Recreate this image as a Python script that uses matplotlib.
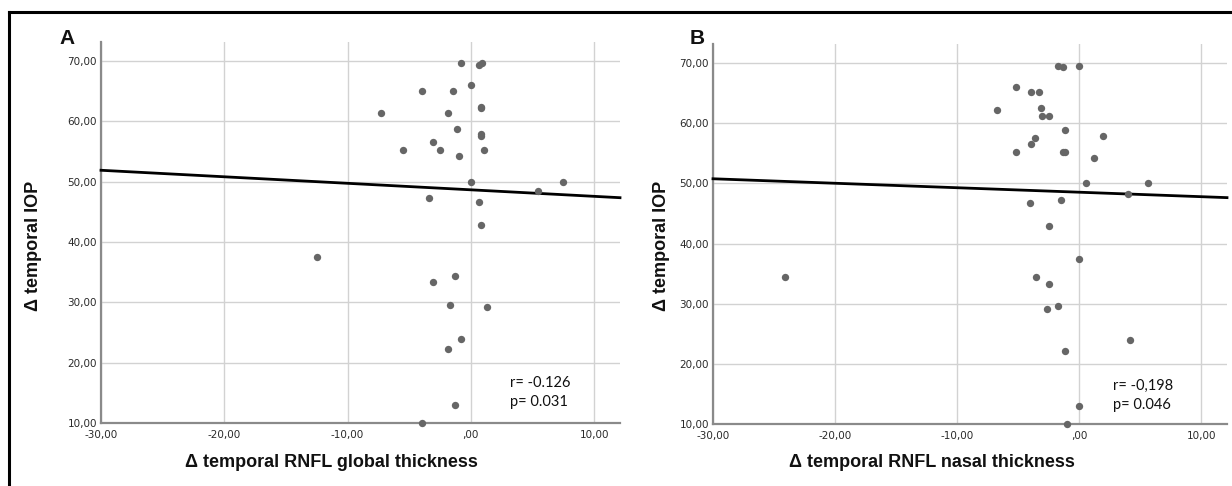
import matplotlib
matplotlib.use("Agg")
import matplotlib.pyplot as plt
from matplotlib.lines import Line2D
from matplotlib.ticker import FuncFormatter

# panel A: delta temporal RNFL global thickness vs delta temporal IOP
global_x = [-0.83, 0.70, 0.93, -3.94, -1.47, 0.0, 0.80, 0.83, -7.30, -1.83,
            -1.12, 0.83, 0.83, -3.08, -5.48, -2.53, 1.09, -0.96, 0.0, 7.47,
            5.48, -3.37, 0.64, 0.80, -12.5, -1.25, -3.08, -1.73, 1.28, -0.83,
            -1.83, -1.25, -3.94]
global_y = [69.6, 69.3, 69.6, 65.1, 65.1, 66.0, 62.4, 62.2, 61.3, 61.3,
            58.8, 57.9, 57.5, 56.6, 55.3, 55.3, 55.3, 54.2, 50.0, 50.0,
            48.4, 47.3, 46.7, 42.9, 37.5, 34.4, 33.3, 29.6, 29.2, 24.0,
            22.2, 13.0, 10.0]

# panel B: delta temporal RNFL nasal thickness vs delta temporal IOP
nasal_x = [-1.73, -1.30, 0.0, -5.15, -3.97, -3.29, -6.71, -3.16, -3.03, -2.48,
           -1.17, 1.95, -3.62, -3.97, -5.15, -1.37, -1.17, 1.17, 0.59, 5.67,
           4.00, -4.07, -1.47, -2.44, 0.0, -24.1, -3.58, -2.44, -1.73, -2.67,
           4.14, -1.17, 0.0, -1.00]
nasal_y = [69.6, 69.3, 69.6, 66.0, 65.2, 65.2, 62.3, 62.5, 61.3, 61.3,
           58.9, 57.9, 57.5, 56.6, 55.3, 55.3, 55.3, 54.2, 50.0, 50.0,
           48.3, 46.7, 47.3, 42.9, 37.5, 34.4, 34.4, 33.3, 29.6, 29.2,
           24.0, 22.2, 13.0, 10.0]

# fit lines: (intercept, slope)
fit_global = (48.65, -0.108)
fit_nasal = (48.55, -0.0745)

stats_global = ["r= -0.126", "p= 0.031"]
stats_nasal = ["r= -0,198", "p= 0.046"]

xticks = [-30, -20, -10, 0, 10]
yticks = [10, 20, 30, 40, 50, 60, 70]


def comma_fmt(v, pos):
    s = "%.2f" % v
    if s.startswith("0."):
        s = s[1:]
    if s == "-0.00":
        s = ".00"
    return s.replace(".", ",")


def panel(fig, rect, xs, ys, fit, stats, ylim_top, stats_pos):
    ax = fig.add_axes(rect)
    ax.set_xlim(-30, 12.1)
    ax.set_ylim(10, ylim_top)
    ax.set_xticks(xticks)
    ax.set_yticks(yticks)
    ax.xaxis.set_major_formatter(FuncFormatter(comma_fmt))
    ax.yaxis.set_major_formatter(FuncFormatter(comma_fmt))
    ax.grid(True, color="#d2d2d2", linewidth=1.0)
    ax.set_axisbelow(True)
    for side in ["top", "right"]:
        ax.spines[side].set_visible(False)
    for side in ["left", "bottom"]:
        ax.spines[side].set_color("#8a8a8a")
        ax.spines[side].set_linewidth(1.6)
    ax.tick_params(length=0, labelsize=7.5, labelcolor="#2a2a2a", pad=3)
    ax.tick_params(axis="x", pad=5)

    x0, x1 = ax.get_xlim()
    a, b = fit
    ax.plot([x0, x1], [a + b * x0, a + b * x1], color="black", lw=2.0,
            zorder=3, clip_on=False)
    ax.scatter(xs, ys, s=28, color="#666666", zorder=4, clip_on=False,
               linewidths=0)
    ax.text(stats_pos[0], stats_pos[1], stats[0] + "\n" + stats[1],
            fontsize=10.5, family="Lato", linespacing=1.45, va="center",
            ha="left", transform=ax.transData, color="#111111")
    return ax


fig = plt.figure(figsize=(12.32, 4.86), dpi=100)

panel(fig, [101 / 1232, 63 / 486, 519 / 1232, 381 / 486],
      global_x, global_y, fit_global, stats_global, 73.15, (3.2, 15.1))
panel(fig, [713 / 1232, 62 / 486, 514 / 1232, 380 / 486],
      nasal_x, nasal_y, fit_nasal, stats_nasal, 73.2, (2.8, 14.8))

bold = dict(family="Liberation Sans", weight="bold", color="#111111")
fig.text(33 / 1232, 1 - 246 / 486, "Δ temporal IOP", rotation=90,
         ha="center", va="center", fontsize=13, **bold)
fig.text(662 / 1232, 1 - 246 / 486, "Δ temporal IOP", rotation=90,
         ha="center", va="center", fontsize=13, **bold)
fig.text(331 / 1232, 1 - 462 / 486, "Δ temporal RNFL global thickness",
         ha="center", va="center", fontsize=13, **bold)
fig.text(932 / 1232, 1 - 462 / 486, "Δ temporal RNFL nasal thickness",
         ha="center", va="center", fontsize=13, **bold)
fig.text(67 / 1232, 1 - 38 / 486, "A", ha="center", va="center",
         fontsize=15, **bold)
fig.text(697 / 1232, 1 - 38 / 486, "B", ha="center", va="center",
         fontsize=15, **bold)

# outer frame (top and left edges)
fig.add_artist(Line2D([9 / 1232, 1.0], [1 - 12 / 486, 1 - 12 / 486],
                      transform=fig.transFigure, color="black", lw=2.2))
fig.add_artist(Line2D([9 / 1232, 9 / 1232], [0.0, 1 - 12 / 486],
                      transform=fig.transFigure, color="black", lw=2.2))

fig.savefig("out.png", dpi=100)
